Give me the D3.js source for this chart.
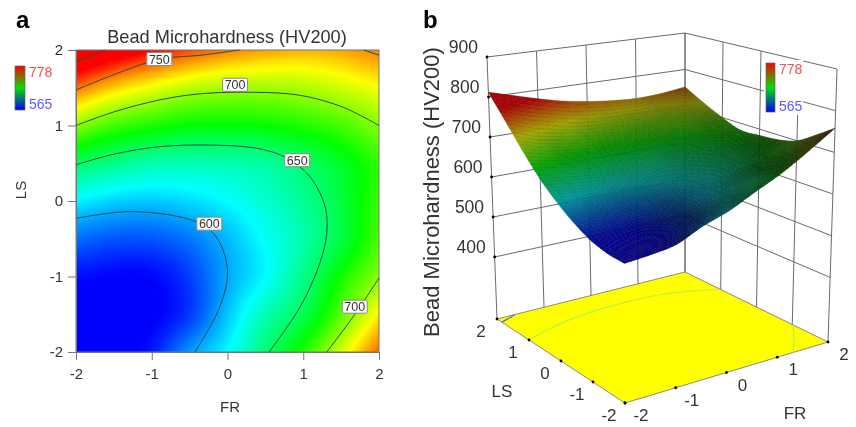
<!DOCTYPE html>
<html lang="en">

<head>
    <meta charset="UTF-8" />
    <title>Bead Microhardness</title>
    <script src="https://d3js.org/d3.v7.min.js"></script>
    <style>
        body {
            margin: 0;
            background: #fff;
            font-family: "Liberation Sans", sans-serif;
        }

        #heat,
        #chart {
            position: absolute;
            left: 0;
            top: 0;
            filter: blur(0.45px);
        }

        text {
            fill: #333;
        }
    </style>
</head>

<body>
    <canvas id="heat" width="856" height="427"></canvas>
    <svg id="chart" width="856" height="427"></svg>

    <script>
        // values
        const frLevels = [-2, -1.5, -1, -0.5, 0, 0.5, 1, 1.5, 2];
        const lsLevels = [2, 1.5, 1, 0.5, 0, -0.5, -1, -1.5, -2];
        const hardness = [
            [812, 795, 778, 763, 752, 745, 741, 744, 752],
            [755, 735, 722, 711, 706, 705, 708, 715, 724],
            [700, 685, 677, 671, 670, 672, 678, 686, 700],
            [652, 643, 636, 634, 635, 639, 650, 664, 682],
            [616, 609, 607, 611, 618, 628, 641, 659, 684],
            [588, 583, 583, 590, 604, 620, 636, 658, 688],
            [568, 565, 566, 578, 600, 618, 643, 674, 700],
            [558, 558, 563, 577, 606, 634, 655, 690, 728],
            [556, 561, 570, 597, 618, 648, 678, 716, 758]
        ];

        const axisTicks = [-2, -1, 0, 1, 2];
        const hardnessTicks = [400, 500, 600, 700, 800, 900];
        const legendRange = [778, 565];

        // contour lines as [FR, LS] points
        const contour800 = [[-2, 1.85], [-1.8, 1.92], [-1.62, 2]];
        const contour750 = [[-2, 1.47], [-1.51, 1.67], [-0.89, 1.88], [-0.36, 1.93], [0.16, 2]];
        const contour750Right = [[1.8, 2], [2, 1.93]];
        const contour700Top = [[-2, 1], [-1.5, 1.18], [-0.89, 1.34], [-0.36, 1.42], [0.34, 1.44], [0.96, 1.4], [1.53, 1.24], [2, 1]];
        const contour650 = [[-2, 0.48], [-1.5, 0.62], [-0.89, 0.72], [-0.19, 0.74], [0.43, 0.69], [0.78, 0.57], [1.09, 0.32], [1.29, -0.08], [1.31, -0.43], [1.22, -0.82], [0.96, -1.4], [0.55, -2]];
        const contour600 = [[-2, -0.23], [-1.25, -0.14], [-0.4, -0.28], [-0.14, -0.49], [0, -0.92], [-0.1, -1.4], [-0.43, -2]];
        const contour700Low = [[1.31, -2], [1.66, -1.53], [2, -1.02]];

        const contourLabels = [
            ["750", -0.9, 1.88],
            ["700", 0.1, 1.54],
            ["650", 0.92, 0.54],
            ["600", -0.24, -0.3],
            ["700", 1.68, -1.4]
        ];

        const svg = d3.select("#chart");
        const ctx = document.getElementById("heat").getContext("2d");

        const lastCol = frLevels.length - 1;
        const lastRow = lsLevels.length - 1;
        const colOf = d3.scaleLinear().domain([frLevels[0], frLevels[lastCol]]).range([0, lastCol]);
        const rowOf = d3.scaleLinear().domain([lsLevels[0], lsLevels[lastRow]]).range([0, lastRow]);

        function catmull(a, b, c, d, t) {
            return 0.5 * (2 * b + (c - a) * t + (2 * a - 5 * b + 4 * c - d) * t * t + (3 * b - a - 3 * c + d) * t * t * t);
        }

        // grid value, carried straight on past the edges
        function cell(r, c) {
            if (r < 0) return 2 * cell(0, c) - cell(1, c);
            if (r > lastRow) return 2 * cell(lastRow, c) - cell(lastRow - 1, c);
            if (c < 0) return 2 * cell(r, 0) - cell(r, 1);
            if (c > lastCol) return 2 * cell(r, lastCol) - cell(r, lastCol - 1);
            return hardness[r][c];
        }

        // smooth reading of the grid at any FR, LS
        function sample(fr, ls) {
            const gx = colOf(fr);
            const gy = rowOf(ls);
            const ix = Math.min(lastCol - 1, Math.floor(gx));
            const iy = Math.min(lastRow - 1, Math.floor(gy));
            const rows = [-1, 0, 1, 2].map(j =>
                catmull(cell(iy + j, ix - 1), cell(iy + j, ix), cell(iy + j, ix + 1), cell(iy + j, ix + 2), gx - ix));
            return catmull(rows[0], rows[1], rows[2], rows[3], gy - iy);
        }

        const heatColor = d3.scaleLinear()
            .domain([565, 618, 671.5, 725, 778])
            .range(["#0000ff", "#00ffff", "#00ff00", "#ffff00", "#ff0000"])
            .clamp(true);

        const rampColor = d3.scaleLinear()
            .domain([565, 671.5, 778])
            .range(["#0000ff", "#00e000", "#ff0000"])
            .clamp(true);

        /* ---------- panel a ---------- */
        const x = d3.scaleLinear().domain([-2, 2]).range([76, 379]);
        const y = d3.scaleLinear().domain([-2, 2]).range([352, 50]);

        for (let px = x.range()[0]; px < x.range()[1]; px++) {
            for (let py = y.range()[1]; py < y.range()[0]; py++) {
                ctx.fillStyle = heatColor(sample(x.invert(px + 0.5), y.invert(py + 0.5)));
                ctx.fillRect(px, py, 1, 1);
            }
        }

        const panelA = svg.append("g");

        const xAxis = panelA.append("g")
            .attr("transform", `translate(0,${y(-2)})`)
            .call(d3.axisBottom(x).tickValues(axisTicks).tickSize(8).tickPadding(8).tickFormat(String));
        const yAxis = panelA.append("g")
            .attr("transform", `translate(${x(-2)},0)`)
            .call(d3.axisLeft(y).tickValues(axisTicks).tickSize(8).tickPadding(5).tickFormat(String));

        [xAxis, yAxis].forEach(a => {
            a.selectAll("text").style("font-size", "15px").style("font-family", "Liberation Sans");
            a.selectAll("line").attr("stroke", "#777");
            a.select(".domain").attr("stroke", "#777");
        });

        panelA.append("rect")
            .attr("x", x(-2)).attr("y", y(2))
            .attr("width", x(2) - x(-2)).attr("height", y(-2) - y(2))
            .attr("fill", "none").attr("stroke", "#777");

        const contourLine = d3.line()
            .x(d => x(d[0]))
            .y(d => y(d[1]))
            .curve(d3.curveCatmullRom);

        [contour800, contour750, contour750Right, contour700Top, contour650, contour600, contour700Low].forEach(c => {
            panelA.append("path")
                .attr("d", contourLine(c))
                .attr("fill", "none")
                .attr("stroke", "#2a4a44")
                .attr("stroke-width", 1);
        });

        contourLabels.forEach(([label, fr, ls]) => {
            panelA.append("rect")
                .attr("x", x(fr) - 12.5).attr("y", y(ls) - 6.5)
                .attr("width", 25).attr("height", 13)
                .attr("fill", "#fff").attr("stroke", "#888").attr("rx", 1);
            panelA.append("text")
                .attr("x", x(fr)).attr("y", y(ls) + 4.5)
                .attr("text-anchor", "middle")
                .style("font-size", "12.5px")
                .text(label);
        });

        panelA.append("text").attr("x", 227).attr("y", 43)
            .attr("text-anchor", "middle").style("font-size", "18.2px")
            .text("Bead Microhardness (HV200)");
        panelA.append("text").attr("x", 230).attr("y", 412)
            .attr("text-anchor", "middle").style("font-size", "15px").text("FR");
        panelA.append("text")
            .attr("transform", "translate(26,190) rotate(-90)")
            .attr("text-anchor", "middle").style("font-size", "15px").text("LS");
        panelA.append("text").attr("x", 16).attr("y", 28)
            .style("font-size", "24px").style("font-weight", "bold").style("fill", "#000").text("a");

        /* ---------- panel b ---------- */
        const defs = svg.append("defs");
        const grad = defs.append("linearGradient").attr("id", "ramp")
            .attr("x1", 0).attr("y1", 0).attr("x2", 0).attr("y2", 1);
        [778, 671.5, 565].forEach((val, i) => {
            grad.append("stop").attr("offset", i / 2).attr("stop-color", rampColor(val));
        });

        function legend(g, bx, by, bw, bh, tx) {
            g.append("rect").attr("x", bx).attr("y", by).attr("width", bw).attr("height", bh)
                .attr("fill", "url(#ramp)").attr("stroke", "#666").attr("stroke-width", 0.7);
            legendRange.forEach((val, i) => {
                g.append("text")
                    .attr("x", tx).attr("y", i === 0 ? by + 11 : by + bh - 1)
                    .style("font-size", "14px")
                    .style("fill", i === 0 ? "#ff4a4a" : "#5a5aff")
                    .text(val);
            });
        }
        legend(panelA, 15, 66, 10, 44, 29);

        const panelB = svg.append("g");

        const u = d3.scaleLinear().domain([-2, 2]).range([0, 1]);
        const v = d3.scaleLinear().domain([-2, 2]).range([0, 1]);
        const w = d3.scaleLinear().domain([245, 900]).range([0, 1]);

        // box corners on the page, named by FR/LS end
        const floorBox = { ll: [625, 403], hl: [828, 342], lh: [497, 319], hh: [685, 272] };
        const topBox = { ll: [624, 109], hl: [837, 69], lh: [487, 57], hh: [685, 33] };

        function bilinear(box, a, b, i) {
            return (1 - a) * (1 - b) * box.ll[i] + a * (1 - b) * box.hl[i] + (1 - a) * b * box.lh[i] + a * b * box.hh[i];
        }

        function project(fr, ls, z) {
            const a = u(fr), b = v(ls), c = w(z);
            return [0, 1].map(i => (1 - c) * bilinear(floorBox, a, b, i) + c * bilinear(topBox, a, b, i));
        }

        const polyLine = d3.line();
        const curve3d = d3.line().curve(d3.curveCatmullRom);
        const zFloor = w.domain()[0];
        const zTop = w.domain()[1];

        panelB.append("path")
            .attr("d", polyLine([[-2, -2], [2, -2], [2, 2], [-2, 2]].map(d => project(d[0], d[1], zFloor))) + "Z")
            .attr("fill", "#ffff00").attr("stroke", "#888");

        // contours on the floor
        [contour700Top, contour700Low].forEach(c => {
            panelB.append("path")
                .attr("d", curve3d(c.map(d => project(d[0], d[1], zFloor))))
                .attr("fill", "none").attr("stroke", "#b8f050").attr("stroke-width", 1.2);
        });
        panelB.append("path")
            .attr("d", curve3d(contour800.map(d => project(d[0], d[1], zFloor))))
            .attr("fill", "none").attr("stroke", "#5070d0").attr("stroke-width", 1.2);

        // back walls
        const wallColor = "#6a6a6a";
        hardnessTicks.forEach(t => {
            panelB.append("path")
                .attr("d", polyLine([project(-2, 2, t), project(2, 2, t), project(2, -2, t)]))
                .attr("fill", "none").attr("stroke", wallColor);
        });
        axisTicks.forEach(t => {
            panelB.append("path")
                .attr("d", polyLine([project(t, 2, zFloor), project(t, 2, zTop)]))
                .attr("fill", "none").attr("stroke", wallColor);
            panelB.append("path")
                .attr("d", polyLine([project(2, t, zFloor), project(2, t, zTop)]))
                .attr("fill", "none").attr("stroke", wallColor);
        });

        panelB.append("rect")
            .attr("x", 764).attr("y", 60).attr("width", 39).attr("height", 55).attr("fill", "#fff");
        legend(panelB, 766, 63, 9, 49, 779);

        // surface, far corner first
        const cellCount = 60;
        const step = 4 / cellCount;
        const surface = panelB.append("g");
        const grid = d3.range(cellCount + 1).map(i => -2 + i * step);

        for (let j = cellCount - 1; j >= 0; j--) {
            for (let i = cellCount - 1; i >= 0; i--) {
                const f0 = grid[i], f1 = grid[i + 1], l0 = grid[j], l1 = grid[j + 1];
                const z00 = sample(f0, l0), z10 = sample(f1, l0), z11 = sample(f1, l1), z01 = sample(f0, l1);
                const mean = (z00 + z10 + z11 + z01) / 4;
                const slopeF = ((z10 + z11) - (z00 + z01)) / 2 / step;
                const shade = Math.max(0.2, Math.min(0.68, 0.56 - 0.0042 * slopeF));
                const c = d3.rgb(heatColor(mean));
                const fill = d3.rgb(c.r * shade, c.g * shade, c.b * shade);
                surface.append("path")
                    .attr("d", polyLine([project(f0, l0, z00), project(f1, l0, z10), project(f1, l1, z11), project(f0, l1, z01)]) + "Z")
                    .attr("fill", fill)
                    .attr("stroke", fill.darker(0.8))
                    .attr("stroke-width", 0.4);
            }
        }

        // tick dots
        const dots = hardnessTicks.map(t => project(-2, 2, t))
            .concat(axisTicks.map(t => project(-2, t, zFloor)))
            .concat(axisTicks.map(t => project(t, -2, zFloor)));
        panelB.selectAll("circle").data(dots).join("circle")
            .attr("cx", d => d[0]).attr("cy", d => d[1]).attr("r", 1.4).attr("fill", "#000");

        hardnessTicks.forEach(t => {
            const p = project(-2, 2, t);
            panelB.append("text")
                .attr("x", p[0] - 9).attr("y", p[1] - 4)
                .attr("text-anchor", "end").style("font-size", "17.5px").text(t);
        });
        axisTicks.forEach(t => {
            const p = project(-2, t, zFloor);
            panelB.append("text").attr("x", p[0] - 16).attr("y", p[1] + 18)
                .attr("text-anchor", "middle").style("font-size", "17px").text(t);
            const q = project(t, -2, zFloor);
            panelB.append("text").attr("x", q[0] + 16).attr("y", q[1] + 18)
                .attr("text-anchor", "middle").style("font-size", "17px").text(t);
        });

        panelB.append("text").attr("x", 502).attr("y", 397)
            .attr("text-anchor", "middle").style("font-size", "17px").text("LS");
        panelB.append("text").attr("x", 795).attr("y", 419)
            .attr("text-anchor", "middle").style("font-size", "17px").text("FR");
        panelB.append("text")
            .attr("transform", "translate(439,192) rotate(-90)")
            .attr("text-anchor", "middle").style("font-size", "22px")
            .text("Bead Microhardness (HV200)");
        panelB.append("text").attr("x", 423).attr("y", 28)
            .style("font-size", "24px").style("font-weight", "bold").style("fill", "#000").text("b");
    </script>
</body>

</html>
